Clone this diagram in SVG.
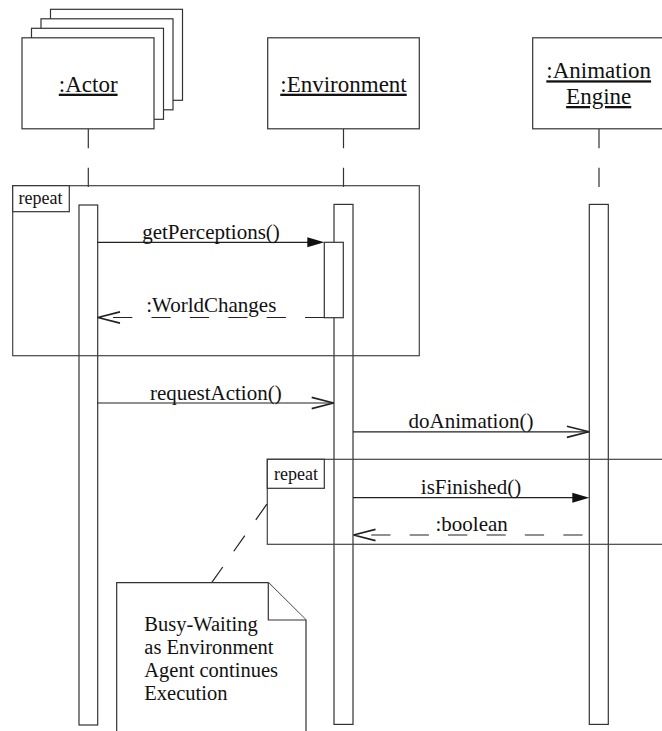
<svg xmlns="http://www.w3.org/2000/svg" width="662" height="731" viewBox="0 0 662 731">
<defs>
<style>
.box{fill:#fff;stroke:#333;stroke-width:1.2}
.frame{fill:none;stroke:#444;stroke-width:1.2}
.lbl{fill:#fff;stroke:#333;stroke-width:1.2}
.life{stroke:#333;stroke-width:1.2;stroke-dasharray:19.3 19.5;fill:none}
.bar{fill:#fff;stroke:#333;stroke-width:1.2}
.msg{stroke:#222;stroke-width:1.2;fill:none}
.ret{stroke:#222;stroke-width:1.2;fill:none;stroke-dasharray:19.2 19.2}
.head{stroke:#222;stroke-width:1.6;fill:none}
.fhead{fill:#111;stroke:none}
.name{font-family:"Liberation Serif","Times New Roman",serif;font-size:23px;fill:#111;text-anchor:middle;text-decoration:underline}
.mt{font-family:"Liberation Serif","Times New Roman",serif;font-size:21px;fill:#111;text-anchor:middle}
.ft{font-family:"Liberation Serif","Times New Roman",serif;font-size:18px;fill:#111}
.nt{font-family:"Liberation Serif","Times New Roman",serif;font-size:20.5px;fill:#111}
</style>
</defs>

<g id="lifelines">
<line class="life" x1="88.3" y1="129" x2="88.3" y2="205"/>
<line class="life" x1="343.5" y1="129" x2="343.5" y2="205"/>
<line class="life" x1="599" y1="129" x2="599" y2="205"/>
</g>

<g id="actor">
<rect class="box" x="50.5" y="9.3" width="132" height="91"/>
<rect class="box" x="41" y="18.8" width="132" height="91"/>
<rect class="box" x="31.5" y="28.3" width="132" height="91"/>
<rect class="box" x="22" y="37.8" width="132" height="91"/>
<text class="name" x="88.2" y="91.7">:Actor</text>
<rect class="bar" x="79" y="205" width="18.7" height="520"/>
</g>

<g id="environment">
<rect class="box" x="267.7" y="37.8" width="151.6" height="91"/>
<text class="name" x="343.5" y="91.7">:Environment</text>
<rect class="bar" x="334" y="204.4" width="19" height="520"/>
<rect class="bar" x="324.3" y="242.3" width="19" height="75.4"/>
</g>

<g id="animation-engine">
<rect class="box" x="532.7" y="37.8" width="140" height="91"/>
<text class="name" x="598.7" y="78.3">:Animation</text>
<text class="name" x="598.7" y="104">Engine</text>
<rect class="bar" x="589.3" y="204.4" width="19" height="520"/>
</g>

<g id="repeat-frame-1">
<rect class="frame" x="12.7" y="185.7" width="406.6" height="170"/>
<rect class="lbl" x="12.7" y="185.7" width="56.6" height="26"/>
<text class="ft" x="18.5" y="204">repeat</text>
</g>

<g id="repeat-frame-2">
<rect class="frame" x="267.3" y="459.3" width="420" height="85"/>
<rect class="lbl" x="267.3" y="459.3" width="57" height="29"/>
<text class="ft" x="274" y="480">repeat</text>
</g>

<g id="connectors">
<line class="msg" x1="97.7" y1="242.3" x2="308" y2="242.3"/>
<polygon class="fhead" points="324.3,242.3 307.3,237.3 307.3,247.3"/>
<text class="mt" x="211" y="239">getPerceptions()</text>

<line class="ret" x1="324.3" y1="317.5" x2="97.7" y2="317.5"/>
<polyline class="head" points="120,311.9 97.9,317.5 120,323.1"/>
<text class="mt" x="211.3" y="312.3">:WorldChanges</text>

<line class="msg" x1="97.7" y1="403" x2="334" y2="403"/>
<polyline class="head" points="311.7,397.4 333.6,403 311.7,408.6"/>
<text class="mt" x="215.8" y="399.6">requestAction()</text>

<line class="msg" x1="353" y1="431.8" x2="589.3" y2="431.8"/>
<polyline class="head" points="566.9,426.2 588.9,431.8 566.9,437.4"/>
<text class="mt" x="471" y="428.3">doAnimation()</text>

<line class="msg" x1="353" y1="497.7" x2="573" y2="497.7"/>
<polygon class="fhead" points="589.3,497.7 572.3,492.7 572.3,502.7"/>
<text class="mt" x="471" y="494">isFinished()</text>

<line class="ret" x1="582.5" y1="535" x2="353.3" y2="535"/>
<polyline class="head" points="375.5,529.4 353.5,535 375.5,540.6"/>
<text class="mt" x="471.7" y="530.7">:boolean</text>

<line class="ret" x1="211.7" y1="582.7" x2="267.3" y2="503.5"/>
</g>

<g id="note">
<path class="box" d="M116.7,740 V582.7 H268.3 L306,620 V740"/>
<path class="box" d="M268.3,582.7 V620 H306" fill="none"/>
<text class="nt" x="144.3" y="630.7">Busy-Waiting</text>
<text class="nt" x="144.3" y="653.8">as Environment</text>
<text class="nt" x="144.3" y="676.7">Agent continues</text>
<text class="nt" x="144.3" y="699.5">Execution</text>
</g>
</svg>
